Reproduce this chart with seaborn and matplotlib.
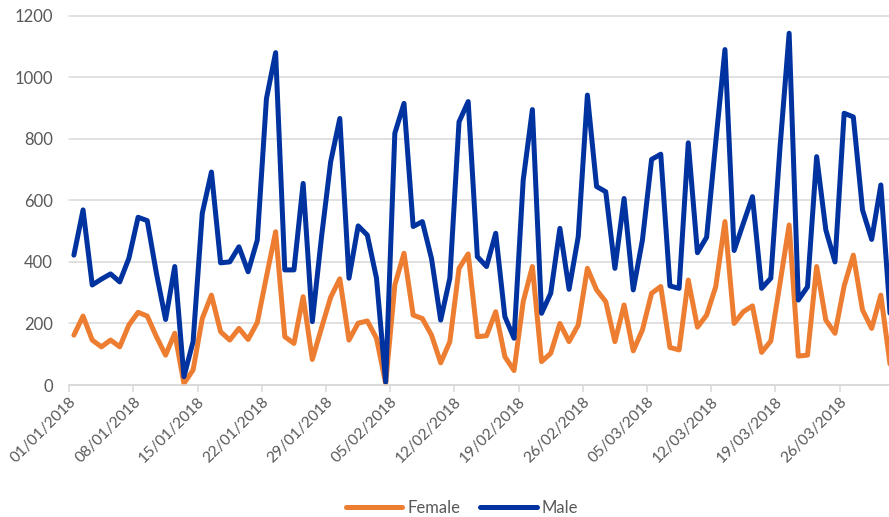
import matplotlib
matplotlib.use("Agg")
import matplotlib.pyplot as plt
import matplotlib.dates as mdates
import numpy as np
import pandas as pd
import seaborn as sns

# Daily counts, 1 January to 31 March 2018
start_date = "2018-01-01"
n_days = 90

male = [422, 569, 325, 344, 361, 335, 412, 545, 534, 363,
        213, 385, 27, 141, 558, 692, 397, 400, 449, 368,
        471, 931, 1080, 374, 374, 655, 206, 480, 725, 866,
        347, 517, 487, 347, 10, 818, 915, 515, 531, 411,
        211, 347, 855, 921, 417, 385, 493, 222, 152, 666,
        895, 233, 298, 509, 311, 482, 942, 645, 628, 379,
        606, 309, 471, 733, 750, 322, 314, 787, 430, 480,
        790, 1090, 437, 525, 612, 314, 347, 770, 1143, 276,
        319, 742, 504, 400, 883, 871, 569, 473, 650, 233]

female = [162, 224, 146, 124, 146, 124, 195, 236, 224, 157,
          97, 168, 5, 49, 216, 292, 173, 146, 184, 148,
          203, 352, 498, 157, 135, 287, 83, 185, 285, 345,
          146, 201, 208, 152, 5, 325, 428, 227, 216, 162,
          72, 141, 379, 426, 157, 160, 238, 92, 47, 271,
          385, 76, 103, 200, 141, 195, 379, 309, 271, 141,
          260, 111, 179, 298, 320, 122, 114, 341, 188, 227,
          320, 531, 200, 238, 257, 106, 143, 330, 520, 94,
          97, 385, 211, 168, 322, 422, 244, 184, 292, 68]

series_names = ["Female", "Male"]
series_colors = {"Female": "#ED7D31", "Male": "#0033A0"}
y_ticks = [0, 200, 400, 600, 800, 1000, 1200]

days = pd.date_range(start_date, periods=n_days, freq="D")
# each day's value sits in the middle of its date slot
centres = days + pd.Timedelta(hours=12)

df = pd.concat([
    pd.DataFrame({"date": centres, "count": female, "sex": "Female"}),
    pd.DataFrame({"date": centres, "count": male, "sex": "Male"}),
], ignore_index=True)

sns.set_theme(style="white")
plt.rcParams["font.family"] = ["Lato", "DejaVu Sans"]
text_grey = "#595959"
grid_grey = "#D9D9D9"

fig = plt.figure(figsize=(8.89, 5.17), dpi=100)
ax = fig.add_axes([69.3 / 889, 1 - 385 / 517, 1 - 69.3 / 889, (385 - 15.7) / 517])

sns.lineplot(data=df, x="date", y="count", hue="sex", hue_order=series_names,
             palette=series_colors, linewidth=3.6, ax=ax, legend=False,
             solid_joinstyle="round", solid_capstyle="round")
for ln in ax.lines:
    ln.set_clip_on(False)

ax.set_ylim(0, 1200)
ax.set_yticks(y_ticks)
ax.set_yticklabels([str(v) for v in y_ticks])
x0 = pd.Timestamp(start_date)
ax.set_xlim(x0, x0 + pd.Timedelta(days=89.39))

tick_dates = pd.date_range(start_date, "2018-03-26", freq="7D")
ax.set_xticks(tick_dates)
ax.xaxis.set_major_formatter(mdates.DateFormatter("%d/%m/%Y"))

ax.set_xlabel("")
ax.set_ylabel("")

ax.grid(axis="y", color=grid_grey, linewidth=1.1)
ax.grid(axis="x", visible=False)
for gl in ax.get_ygridlines():
    gl.set_clip_on(False)
ax.set_axisbelow(True)

for side in ["top", "right", "left"]:
    ax.spines[side].set_visible(False)
ax.spines["bottom"].set_color(grid_grey)
ax.spines["bottom"].set_linewidth(1.1)

ax.tick_params(axis="y", length=0, pad=12, labelsize=12, labelcolor=text_grey)
ax.tick_params(axis="x", length=5, width=1.1, color=grid_grey, pad=2,
               labelsize=11.2, labelcolor=text_grey, bottom=True)
for lbl in ax.get_xticklabels():
    lbl.set_rotation(45)
    lbl.set_ha("right")
    lbl.set_va("top")
    lbl.set_rotation_mode("anchor")

handles = [plt.Line2D([], [], color=series_colors[s], linewidth=3.6,
                      solid_capstyle="round") for s in series_names]
leg = fig.legend(handles, series_names, loc="center", bbox_to_anchor=(462 / 889, 1 - 508 / 517),
                 ncol=2, frameon=False, fontsize=12, handlelength=3.4,
                 handletextpad=0.3, columnspacing=1.2, labelcolor=text_grey)

fig.savefig("out.png", dpi=100)
